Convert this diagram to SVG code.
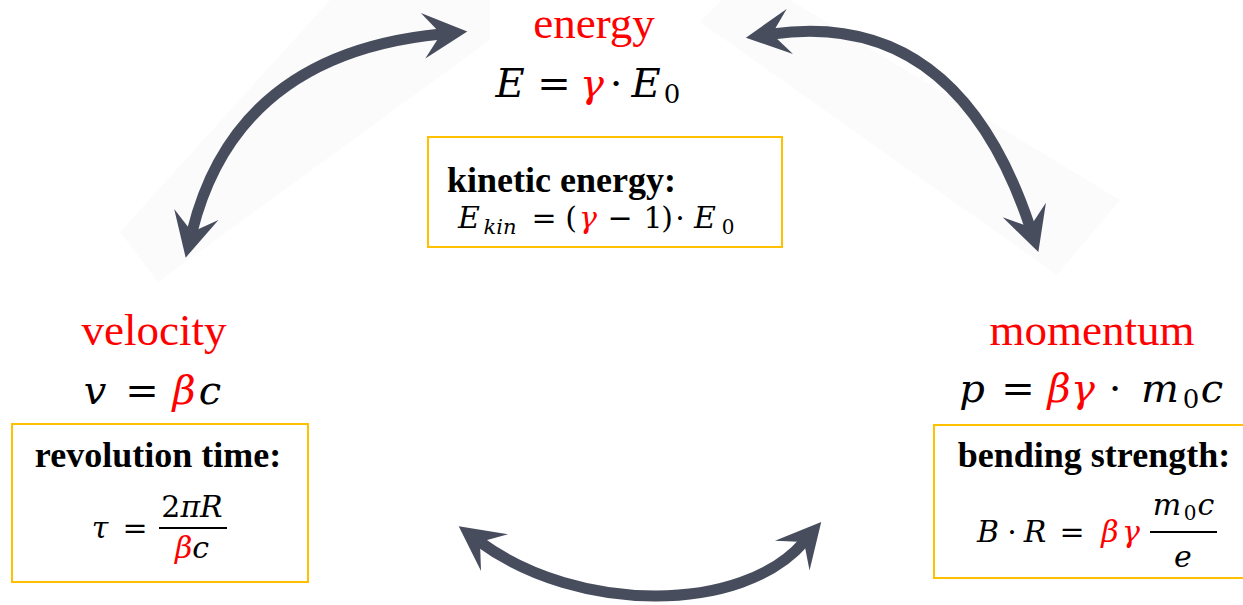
<svg xmlns="http://www.w3.org/2000/svg" width="1243" height="605" viewBox="0 0 1243 605">
<style>
.lbl{font-family:"Liberation Serif","Times New Roman",serif;font-size:45px;fill:#FF0000;text-anchor:middle}
.hd{font-family:"Liberation Serif","Times New Roman",serif;font-size:36px;font-weight:bold;fill:#000}
.m{font-family:"DejaVu Serif",serif;font-style:italic;font-size:40px;fill:#000;text-anchor:middle}
.ms{font-family:"DejaVu Serif",serif;font-style:italic;font-size:30px;fill:#000;text-anchor:middle}
.up{font-style:normal}
.r{fill:#FF0000}
.sub{font-style:normal;font-size:26px}
.sub2{font-style:normal;font-size:20px}
.box{fill:none;stroke:#FFC000;stroke-width:2}
.arr{fill:none;stroke:#484D5E;stroke-width:11}
.band{fill:#FBFBFC}
</style>
<defs>
<marker id="ah" markerUnits="userSpaceOnUse" markerWidth="60" markerHeight="60" refX="-22" refY="0" viewBox="-40 -25 45 50" orient="auto-start-reverse" overflow="visible">
<path d="M0,0 L-37,-19 L-22,0 L-37,19 Z" fill="#484D5E"/>
</marker>
</defs>
<rect width="1243" height="605" fill="#FFFFFF"/>
<g id="bands">
<polygon class="band" points="120,232 158,282 490,40 490,0 330,0"/>
<polygon class="band" points="700,22 722,0 790,0 1120,200 1057,275"/>
</g>
<g id="connectors">
<path class="arr" d="M192,232 Q236,54 441,34" marker-start="url(#ah)" marker-end="url(#ah)"/>
<path class="arr" d="M772,34 Q957,8 1030,227" marker-start="url(#ah)" marker-end="url(#ah)"/>
<path class="arr" d="M480,542 C578,614 742,614 804,542" marker-start="url(#ah)" marker-end="url(#ah)"/>
</g>
<g id="energy">
<text class="lbl" x="594" y="38">energy</text>
<text class="m" y="97"><tspan x="510">E</tspan><tspan x="554" class="up">=</tspan><tspan x="592" class="r">γ</tspan><tspan x="616" class="up">·</tspan><tspan x="646">E</tspan><tspan x="672" y="103" class="sub">0</tspan></text>
</g>
<g id="kinetic">
<rect class="box" x="428" y="137" width="354" height="110"/>
<text class="hd" x="447" y="192">kinetic energy:</text>
<text class="ms" y="228"><tspan x="469">E</tspan><tspan x="500" y="234" style="font-size:21px">kin</tspan><tspan x="544" y="228" class="up">=</tspan><tspan x="571" class="up">(</tspan><tspan x="588" class="r">γ</tspan><tspan x="620" class="up">−</tspan><tspan x="653" class="up">1</tspan><tspan x="667" class="up">)</tspan><tspan x="680" class="up">·</tspan><tspan x="705">E</tspan><tspan x="728" y="234" class="sub2">0</tspan></text>
</g>
<g id="velocity">
<text class="lbl" x="154" y="345">velocity</text>
<text class="m" y="404"><tspan x="95">v</tspan><tspan x="142" class="up">=</tspan><tspan x="184" class="r">β</tspan><tspan x="210">c</tspan></text>
</g>
<g id="revolution">
<rect class="box" x="12" y="424" width="296" height="158"/>
<text class="hd" x="158" y="467" text-anchor="middle">revolution time:</text>
<text class="ms" y="538"><tspan x="100">τ</tspan><tspan x="135" class="up">=</tspan></text>
<text class="ms" x="192" y="517"><tspan class="up">2</tspan>πR</text>
<line x1="159" y1="528" x2="227" y2="528" stroke="#000" stroke-width="2"/>
<text class="ms" x="192" y="558"><tspan class="r">β</tspan>c</text>
</g>
<g id="momentum">
<text class="lbl" x="1092" y="345">momentum</text>
<text class="m" y="402"><tspan x="972">p</tspan><tspan x="1018" class="up">=</tspan><tspan x="1059" class="r">β</tspan><tspan x="1083" class="r">γ</tspan><tspan x="1115" class="up">·</tspan><tspan x="1160">m</tspan><tspan x="1191" y="408" class="sub">0</tspan><tspan x="1212" y="402">c</tspan></text>
</g>
<g id="bending">
<rect class="box" x="934" y="425" width="320" height="153"/>
<text class="hd" x="1094" y="467" text-anchor="middle">bending strength:</text>
<text class="ms" y="542"><tspan x="988">B</tspan><tspan x="1012" class="up">·</tspan><tspan x="1035">R</tspan><tspan x="1072" class="up">=</tspan><tspan x="1110" class="r">β</tspan><tspan x="1131" class="r">γ</tspan></text>
<text class="ms" y="515"><tspan x="1167">m</tspan><tspan x="1190" y="520" class="sub2">0</tspan><tspan x="1206" y="515">c</tspan></text>
<line x1="1150" y1="532" x2="1217" y2="532" stroke="#000" stroke-width="2"/>
<text class="ms" x="1183" y="567">e</text>
</g>
</svg>
